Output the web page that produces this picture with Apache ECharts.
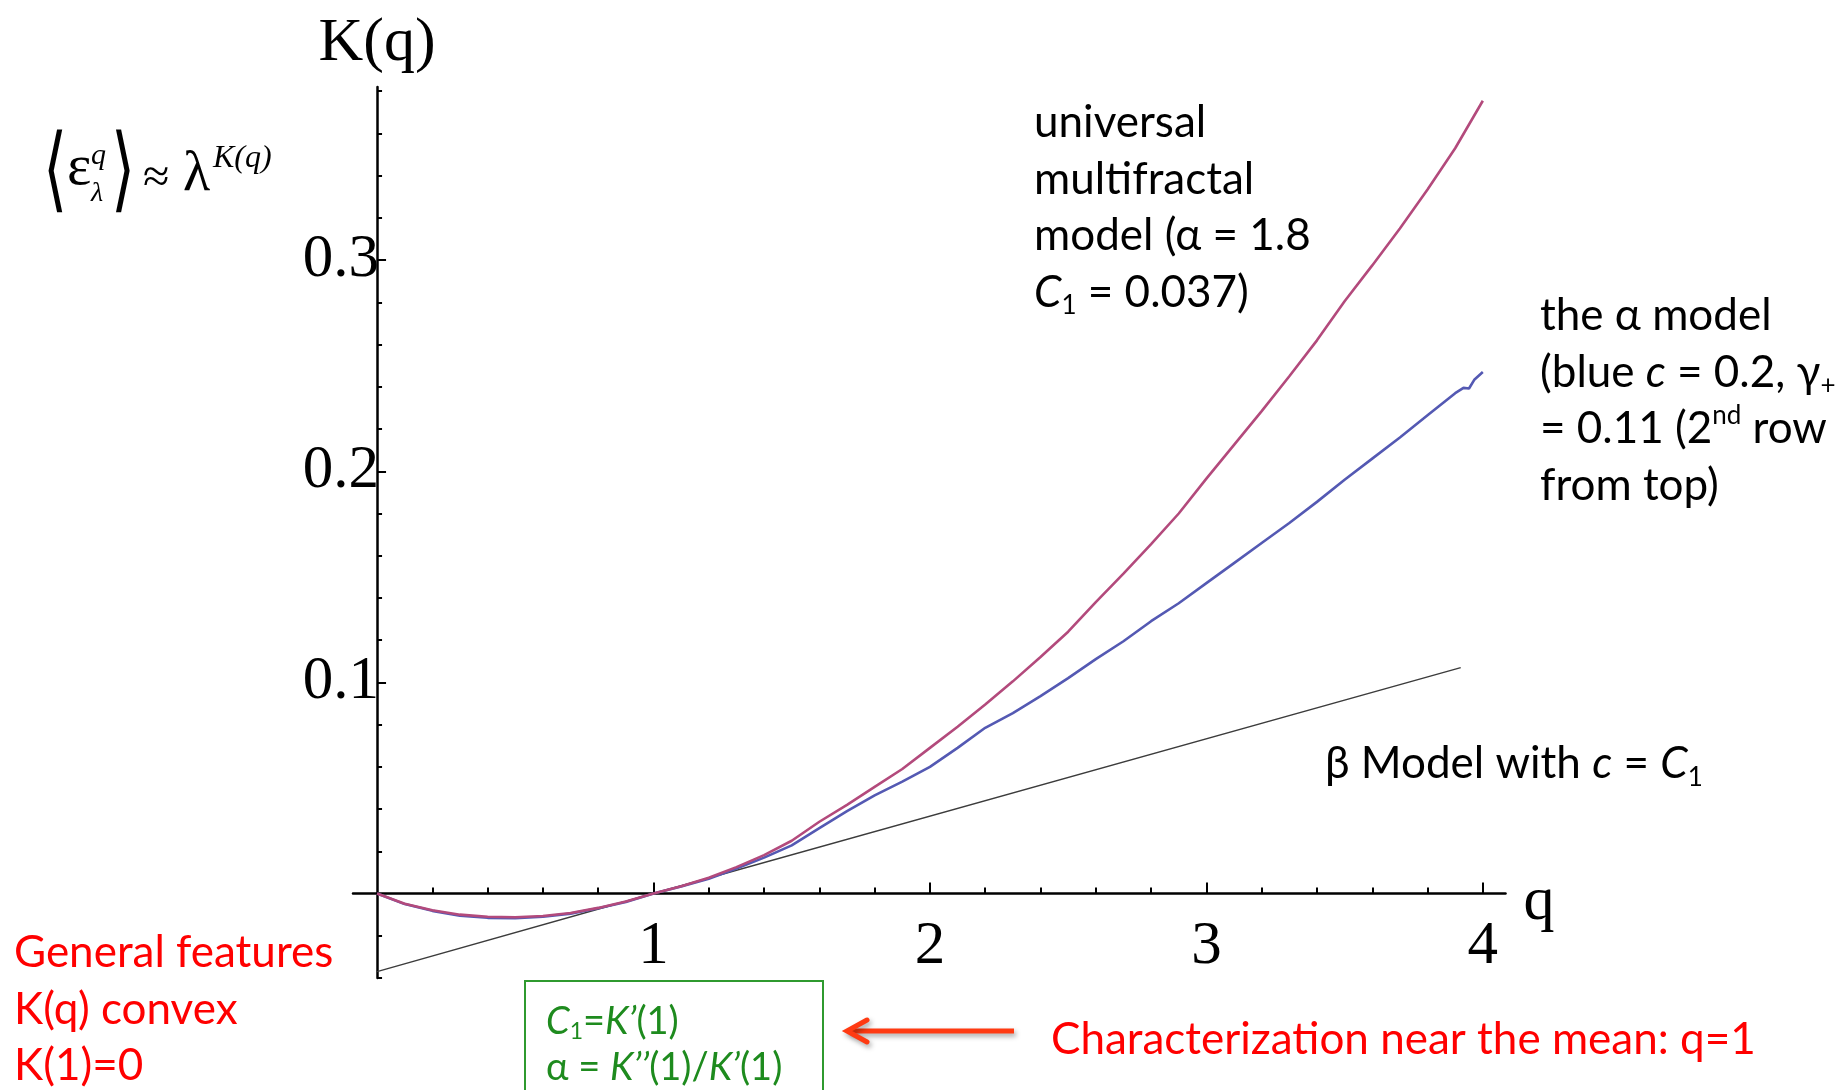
<!DOCTYPE html>
<html>
<head>
<meta charset="utf-8">
<script src="https://cdn.jsdelivr.net/npm/echarts@6/dist/echarts.min.js"></script>
<style>
  html, body { margin: 0; padding: 0; background: #ffffff; }
  #chart { width: 1847px; height: 1090px; }
</style>
</head>
<body>
<div id="chart"></div>
<script>
// Moment scaling function K(q) for the two cascade models
const qUniversal = [0, 0.1, 0.2, 0.3, 0.4, 0.5, 0.6, 0.7, 0.8, 0.9, 1.0,
  1.1, 1.2, 1.3, 1.4, 1.5, 1.6, 1.7, 1.8, 1.9, 2.0,
  2.1, 2.2, 2.3, 2.4, 2.5, 2.6, 2.7, 2.8, 2.9, 3.0,
  3.1, 3.2, 3.3, 3.4, 3.5, 3.6, 3.7, 3.8, 3.9, 4.0];
const kUniversal = [0, -0.0048, -0.0079, -0.0100, -0.0110, -0.0112, -0.0106, -0.0092, -0.0068, -0.0038, 0,
  0.0035, 0.0075, 0.0125, 0.0182, 0.0250, 0.0340, 0.0420, 0.0505, 0.0590, 0.0690,
  0.0790, 0.0895, 0.1005, 0.1120, 0.1240, 0.1380, 0.1515, 0.1655, 0.1800, 0.1965,
  0.2125, 0.2285, 0.2450, 0.2620, 0.2805, 0.2975, 0.3150, 0.3335, 0.3530, 0.3755];

const qAlpha = [0, 0.1, 0.2, 0.3, 0.4, 0.5, 0.6, 0.7, 0.8, 0.9, 1.0,
  1.1, 1.2, 1.3, 1.4, 1.5, 1.6, 1.7, 1.8, 1.9, 2.0,
  2.1, 2.2, 2.3, 2.4, 2.5, 2.6, 2.7, 2.8, 2.9, 3.0,
  3.1, 3.2, 3.3, 3.4, 3.5, 3.6, 3.7, 3.8, 3.9, 3.93, 3.95, 3.97, 4.0];
const kAlpha = [0, -0.0050, -0.0082, -0.0105, -0.0115, -0.0117, -0.0110, -0.0095, -0.0070, -0.0040, 0,
  0.0033, 0.0070, 0.0118, 0.0170, 0.0228, 0.0310, 0.0390, 0.0465, 0.0530, 0.0600,
  0.0690, 0.0785, 0.0855, 0.0935, 0.1020, 0.1110, 0.1195, 0.1290, 0.1375, 0.1470,
  0.1565, 0.1660, 0.1755, 0.1855, 0.1960, 0.2060, 0.2160, 0.2265, 0.2370, 0.2395, 0.2392, 0.2435, 0.2470];

// β model: straight line of slope C1 through K(1) = 0
const qBeta = [0, 1, 3.92];
const kBeta = [-0.037, 0, 0.107];

// Axis ticks and labels
const xMajorTicks = [1, 2, 3, 4];
const xMinorTicks = [0.2, 0.4, 0.6, 0.8, 1.2, 1.4, 1.6, 1.8, 2.2, 2.4, 2.6, 2.8, 3.2, 3.4, 3.6, 3.8];
const yMajorTicks = [0.1, 0.2, 0.3];
const yMinorTicks = [-0.04, -0.02, 0.02, 0.04, 0.06, 0.08, 0.12, 0.14, 0.16, 0.18,
  0.22, 0.24, 0.26, 0.28, 0.32, 0.34, 0.36, 0.38];

const X_MIN = -0.087, X_MAX = 4.082;
const Y_MIN = -0.04, Y_MAX = 0.382;

const pairs = (xs, ys) => xs.map((x, i) => [x, ys[i]]);

const SERIF = 'Liberation Serif, Times New Roman, serif';
const SANS = 'Lato, Carlito, Calibri, sans-serif';
const BRACKET = 'DejaVu Sans, sans-serif';

function rich(size, color) {
  return {
    i: { fontFamily: SANS, fontSize: size, fontStyle: 'italic', fill: color },
    sub: { fontFamily: SANS, fontSize: Math.round(size * 0.6), fill: color, verticalAlign: 'bottom', height: Math.round(size * 0.68) },
    sup: { fontFamily: SANS, fontSize: Math.round(size * 0.6), fill: color, verticalAlign: 'top', height: Math.round(size * 0.68) }
  };
}

function block(x, y, text, size, lineHeight, color) {
  return {
    type: 'text', x: x, y: y, silent: true,
    style: {
      text: text, fontFamily: SANS, fontSize: size, fill: color,
      lineHeight: lineHeight, align: 'left', verticalAlign: 'top',
      rich: rich(size, color)
    }
  };
}

function glyph(x, y, text, size, opts) {
  return Object.assign({
    type: 'text', x: x, y: y, silent: true,
    style: Object.assign({
      text: text, fontFamily: SERIF, fontSize: size, fill: '#000',
      align: 'left', verticalAlign: 'middle'
    }, (opts && opts.style) || {})
  }, (opts && opts.el) || {});
}

const chart = echarts.init(document.getElementById('chart'), null, { renderer: 'canvas' });

const option = {
  animation: false,
  backgroundColor: '#ffffff',
  grid: { left: 353, top: 87, width: 1152.5, height: 891, containLabel: false, outerBoundsMode: 'none' },
  xAxis: [
    {
      type: 'value', min: X_MIN, max: X_MAX, position: 'bottom',
      name: 'q', nameLocation: 'end', nameGap: 18,
      nameTextStyle: { fontFamily: SERIF, fontSize: 62, color: '#000', verticalAlign: 'top', lineHeight: 18 },
      axisLine: { show: true, onZero: true, onZeroAxisIndex: 0, lineStyle: { color: '#000', width: 2.5 } },
      axisTick: { show: true, inside: true, length: 6, customValues: xMinorTicks, lineStyle: { color: '#000', width: 2 } },
      axisLabel: { show: true, customValues: xMajorTicks, fontFamily: SERIF, fontSize: 61, color: '#000', margin: -62 },
      splitLine: { show: false }
    },
    {
      type: 'value', min: X_MIN, max: X_MAX, position: 'bottom',
      axisLine: { show: false, onZero: true, onZeroAxisIndex: 0 },
      axisTick: { show: true, inside: true, length: 11, customValues: xMajorTicks, lineStyle: { color: '#000', width: 2 } },
      axisLabel: { show: false },
      splitLine: { show: false }
    }
  ],
  yAxis: [
    {
      type: 'value', min: Y_MIN, max: Y_MAX, position: 'left',
      name: 'K(q)', nameLocation: 'end', nameGap: 12,
      nameTextStyle: { fontFamily: SERIF, fontSize: 62, color: '#000' },
      axisLine: { show: true, onZero: true, onZeroAxisIndex: 0, lineStyle: { color: '#000', width: 2.5 } },
      axisTick: { show: true, inside: true, length: 5, customValues: yMinorTicks, lineStyle: { color: '#000', width: 2 } },
      axisLabel: {
        show: true, customValues: yMajorTicks, fontFamily: SERIF, fontSize: 61, color: '#000', margin: -26,
        formatter: v => v.toFixed(1)
      },
      splitLine: { show: false }
    },
    {
      type: 'value', min: Y_MIN, max: Y_MAX, position: 'left',
      axisLine: { show: false, onZero: true, onZeroAxisIndex: 0 },
      axisTick: { show: true, inside: true, length: 9, customValues: yMajorTicks, lineStyle: { color: '#000', width: 2 } },
      axisLabel: { show: false },
      splitLine: { show: false }
    }
  ],
  series: [
    {
      type: 'line', name: 'β model', data: pairs(qBeta, kBeta),
      xAxisIndex: 0, yAxisIndex: 0, showSymbol: false, silent: true, z: 2,
      lineStyle: { color: '#3c3c3c', width: 1.4 }
    },
    {
      type: 'line', name: 'α model', data: pairs(qAlpha, kAlpha),
      xAxisIndex: 0, yAxisIndex: 0, showSymbol: false, silent: true, z: 3,
      lineStyle: { color: '#5459b3', width: 2.6 }
    },
    {
      type: 'line', name: 'universal multifractal', data: pairs(qUniversal, kUniversal),
      xAxisIndex: 0, yAxisIndex: 0, showSymbol: false, silent: true, z: 4,
      lineStyle: { color: '#b34a7c', width: 2.6 }
    }
  ],
  graphic: [
    // ⟨ε_λ^q⟩ ≈ λ^K(q)
    glyph(43, 176, '⟨', 62, { style: { fontFamily: BRACKET, fontWeight: 200 }, el: { scaleY: 1.5 } }),
    glyph(67, 169, 'ε', 58),
    glyph(91, 156, 'q', 30, { style: { fontStyle: 'italic' } }),
    glyph(91, 194, 'λ', 28, { style: { fontStyle: 'italic' } }),
    glyph(111, 176, '⟩', 62, { style: { fontFamily: BRACKET, fontWeight: 200 }, el: { scaleY: 1.5 } }),
    glyph(143, 179, '≈', 48),
    glyph(183, 175, 'λ', 56),
    glyph(213, 159, 'K(q)', 32, { style: { fontStyle: 'italic' } }),

    block(1034, 95, 'universal\nmultifractal\nmodel (α = 1.8\n{i|C}{sub|1} = 0.037)', 44, 56.5, '#000'),
    block(1540, 288, 'the α model\n(blue {i|c} = 0.2, γ{sub|+}\n= 0.11 (2{sup|nd} row\nfrom top)', 44, 56.5, '#000'),
    block(1325, 736, 'β Model with {i|c} = {i|C}{sub|1}', 44, 56.5, '#000'),

    block(14, 925, 'General features\nK(q) convex\nK(1)=0', 44, 56.5, '#ff0000'),
    block(1051, 1012, 'Characterization near the mean: q=1', 44, 56.5, '#ff0000'),

    {
      type: 'rect', silent: true,
      shape: { x: 525, y: 981, width: 298, height: 140 },
      style: { fill: 'none', stroke: '#2f9a2f', lineWidth: 2 }
    },
    block(546, 999, '{i|C}{sub|1}={i|K’}(1)\nα = {i|K’’}(1)/{i|K’}(1)', 38, 46, '#1e8b1e'),

    // arrow pointing at the box
    {
      type: 'group', silent: true,
      children: [
        {
          type: 'line', shape: { x1: 1014, y1: 1031, x2: 850, y2: 1031 },
          style: { stroke: '#ff3a12', lineWidth: 5, shadowBlur: 5, shadowColor: 'rgba(0,0,0,0.35)', shadowOffsetX: 2, shadowOffsetY: 3 }
        },
        {
          type: 'polyline', shape: { points: [[867, 1020], [847, 1031], [867, 1042]] },
          style: { stroke: '#ff3a12', fill: 'none', lineWidth: 5, lineCap: 'round', lineJoin: 'miter', shadowBlur: 5, shadowColor: 'rgba(0,0,0,0.35)', shadowOffsetX: 2, shadowOffsetY: 3 }
        }
      ]
    }
  ]
};

chart.setOption(option);
</script>
</body>
</html>
